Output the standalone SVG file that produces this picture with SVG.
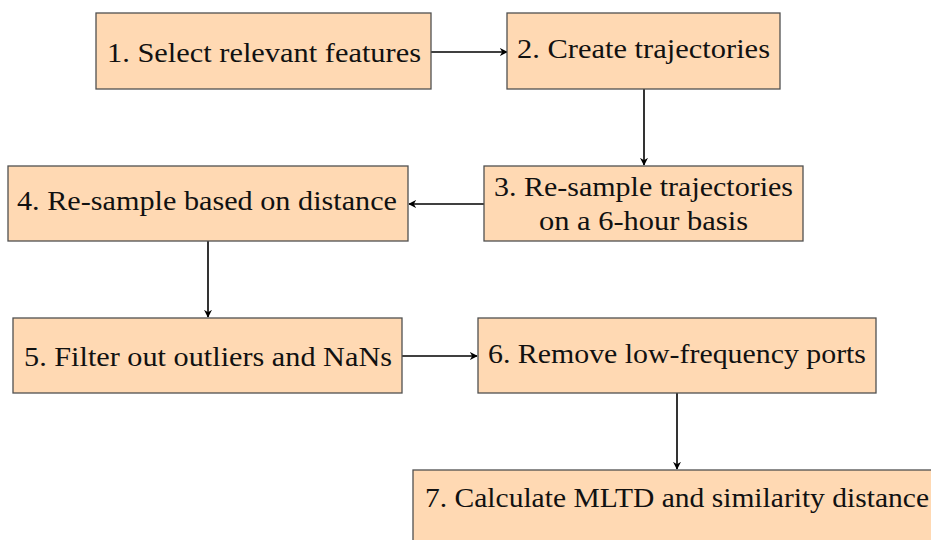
<svg xmlns="http://www.w3.org/2000/svg" width="931" height="540" viewBox="0 0 931 540">
  <style>
    .box { fill: #FFD9B3; stroke: #505050; stroke-width: 1.3; }
    .lbl { font-family: "Liberation Serif", "Times New Roman", serif; font-size: 28px; fill: #111111; }
    .edge { fill: none; stroke: #000000; stroke-width: 1.6; }
  </style>
  <defs>
    <marker id="arr" viewBox="0 0 10 10" refX="9" refY="5" markerWidth="8" markerHeight="8" markerUnits="userSpaceOnUse" orient="auto">
      <path d="M0,0 L10,5 L0,10 L3,5 Z" fill="#000000"/>
    </marker>
  </defs>
  <rect width="931" height="540" fill="#ffffff"/>

  <g id="connectors">
    <line class="edge" x1="431" y1="52" x2="507" y2="52" marker-end="url(#arr)"/>
    <line class="edge" x1="644" y1="89" x2="644" y2="165" marker-end="url(#arr)"/>
    <line class="edge" x1="484" y1="204" x2="409" y2="204" marker-end="url(#arr)"/>
    <line class="edge" x1="208" y1="241" x2="208" y2="317" marker-end="url(#arr)"/>
    <line class="edge" x1="402" y1="356" x2="477" y2="356" marker-end="url(#arr)"/>
    <line class="edge" x1="677" y1="393" x2="677" y2="469" marker-end="url(#arr)"/>
  </g>

  <g id="node1">
    <rect class="box" x="96" y="13" width="335" height="76"/>
    <text class="lbl" x="107" y="62" textLength="314" lengthAdjust="spacingAndGlyphs">1. Select relevant features</text>
  </g>
  <g id="node2">
    <rect class="box" x="507" y="13" width="273" height="76"/>
    <text class="lbl" x="517" y="58" textLength="253" lengthAdjust="spacingAndGlyphs">2. Create trajectories</text>
  </g>
  <g id="node3">
    <rect class="box" x="484" y="166" width="319" height="75"/>
    <text class="lbl" x="494" y="196" textLength="299" lengthAdjust="spacingAndGlyphs">3. Re-sample trajectories</text>
    <text class="lbl" x="539" y="230" textLength="209" lengthAdjust="spacingAndGlyphs">on a 6-hour basis</text>
  </g>
  <g id="node4">
    <rect class="box" x="8" y="166" width="400" height="75"/>
    <text class="lbl" x="17" y="210" textLength="380" lengthAdjust="spacingAndGlyphs">4. Re-sample based on distance</text>
  </g>
  <g id="node5">
    <rect class="box" x="13" y="318" width="389" height="75"/>
    <text class="lbl" x="24" y="366" textLength="368" lengthAdjust="spacingAndGlyphs">5. Filter out outliers and NaNs</text>
  </g>
  <g id="node6">
    <rect class="box" x="478" y="318" width="398" height="75"/>
    <text class="lbl" x="488" y="363" textLength="378" lengthAdjust="spacingAndGlyphs">6. Remove low-frequency ports</text>
  </g>
  <g id="node7">
    <rect class="box" x="413" y="470" width="530" height="76"/>
    <text class="lbl" x="425" y="507" textLength="504" lengthAdjust="spacingAndGlyphs">7. Calculate MLTD and similarity distance</text>
  </g>
</svg>
